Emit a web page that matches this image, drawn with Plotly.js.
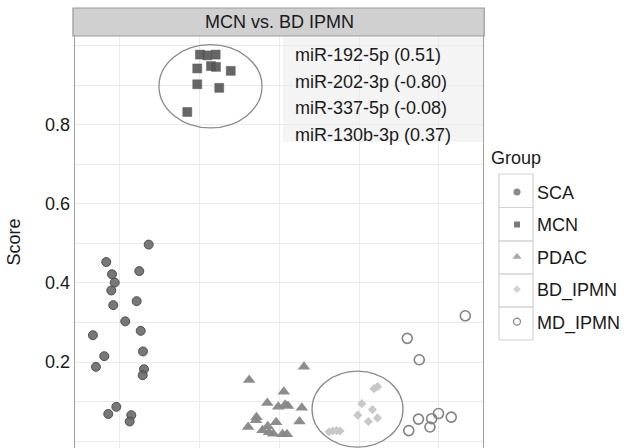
<!DOCTYPE html>
<html>
<head>
<meta charset="utf-8">
<script src="https://cdn.plot.ly/plotly-3.0.1.min.js"></script>
<style>html,body{margin:0;padding:0;background:#fff;}#chart{width:634px;height:448px;}</style>
</head>
<body>
<div id="chart"></div>
<script>
// ---- data (x = jittered group position, y = score) ----
const groups = ["SCA", "MCN", "PDAC", "BD_IPMN", "MD_IPMN"];

const scaX = [1.36, 0.828, 1.242, 0.900, 0.934, 0.891, 1.209, 0.916, 1.066, 0.661, 1.260, 0.803, 1.288, 0.699, 1.301, 1.285, 0.954, 0.853, 1.142, 1.122];
const scaY = [0.497, 0.453, 0.430, 0.422, 0.401, 0.381, 0.354, 0.344, 0.303, 0.268, 0.279, 0.215, 0.227, 0.188, 0.182, 0.167, 0.087, 0.069, 0.066, 0.050];

const mcnX = [2.003, 2.095, 2.200, 2.141, 2.204, 1.969, 2.389, 1.969, 2.245, 1.844];
const mcnY = [0.977, 0.975, 0.977, 0.948, 0.946, 0.942, 0.936, 0.902, 0.893, 0.832];

const pdacX = [3.307, 2.620, 3.054, 2.847, 2.984, 3.071, 3.107, 3.280, 2.712, 2.705, 2.958, 3.251, 2.607, 2.787, 2.853, 2.922, 3.038, 3.094, 2.868];
const pdacY = [0.188, 0.155, 0.125, 0.097, 0.087, 0.092, 0.089, 0.085, 0.061, 0.053, 0.048, 0.050, 0.036, 0.028, 0.038, 0.019, 0.018, 0.018, 0.023];

const bdX = [4.185, 4.231, 4.032, 4.166, 3.982, 4.229, 4.114, 3.622, 3.668, 3.716, 3.759];
const bdY = [0.133, 0.138, 0.095, 0.080, 0.066, 0.059, 0.050, 0.024, 0.026, 0.027, 0.026];

const mdX = [5.330, 4.602, 4.753, 4.994, 4.908, 4.743, 5.154, 4.887, 4.621];
const mdY = [0.317, 0.260, 0.206, 0.070, 0.057, 0.056, 0.061, 0.036, 0.027];

// ellipses around the compared groups (data units)
const ellipseMCN = {x0: 1.489, x1: 2.781, y0: 0.792, y1: 1.002};
const ellipseBD = {x0: 3.408, x1: 4.549, y0: -0.015, y1: 0.177};

const panelTitle = "MCN vs. BD IPMN";
const legendTitle = "Group";
const mirLabels = ["miR-192-5p (0.51)", "miR-202-3p (-0.80)", "miR-337-5p (-0.08)", "miR-130b-3p (0.37)"];
const yGridVals = [0, 0.1, 0.2, 0.3, 0.4, 0.5, 0.6, 0.7, 0.8, 0.9, 1.0];
const yTickText = ["", "", "0.2", "", "0.4", "", "0.6", "", "0.8", "", ""];

// ---- styling ----
const FONT = "Liberation Sans, Arial, sans-serif";
const FS = 18;

const styles = [
  {symbol: "circle", size: 9, color: "rgba(105,105,105,0.9)", line: {color: "rgba(70,70,70,0.9)", width: 1}},
  {symbol: "square", size: 9, color: "rgba(85,85,85,0.9)", line: {color: "rgba(85,85,85,0.9)", width: 0.5}},
  {symbol: "triangle-up", size: 11, color: "rgba(135,135,135,0.95)", line: {width: 0}},
  {symbol: "diamond", size: 7, color: "rgba(200,200,200,1)", line: {width: 0}},
  {symbol: "circle-open", size: 10, color: "rgba(130,130,130,1)", line: {color: "rgba(130,130,130,1)", width: 1.6}}
];
const legendStyles = [
  {symbol: "circle", size: 7, color: "#8a8a8a", line: {width: 0}},
  {symbol: "square", size: 6, color: "#7a7a7a", line: {width: 0}},
  {symbol: "triangle-up", size: 8, color: "#a8a8a8", line: {width: 0}},
  {symbol: "diamond", size: 6, color: "#d2d2d2", line: {width: 0}},
  {symbol: "circle-open", size: 7, color: "#8a8a8a", line: {color: "#8a8a8a", width: 1.3}}
];
const xs = [scaX, mcnX, pdacX, bdX, mdX];
const ys = [scaY, mcnY, pdacY, bdY, mdY];

const data = [];
groups.forEach((g, i) => data.push({type: "scatter", mode: "markers", name: g, x: xs[i], y: ys[i],
  marker: styles[i], showlegend: false, hoverinfo: "skip"}));
// legend-only entries (small key symbols, like the reference legend)
groups.forEach((g, i) => data.push({type: "scatter", mode: "markers", name: g, x: [null], y: [null],
  marker: legendStyles[i], legendgroup: g, showlegend: true, hoverinfo: "skip"}));

// layout geometry: plot area 75..483 x, 36..448 y
const shapes = [
  {type: "rect", xref: "paper", yref: "paper", x0: -0.005, x1: 1.003, y0: 1.0, y1: 1.068,
   fillcolor: "#d0d0d0", line: {color: "#9a9a9a", width: 1.2}, layer: "above"},
  {type: "rect", xref: "paper", yref: "paper", x0: 0.51, x1: 1.0, y0: 0.7427, y1: 0.997,
   fillcolor: "rgba(240,240,240,0.7)", line: {width: 0}, layer: "between"},
  {type: "circle", xref: "x", yref: "y", x0: ellipseMCN.x0, x1: ellipseMCN.x1, y0: ellipseMCN.y0, y1: ellipseMCN.y1,
   line: {color: "#8a8a8a", width: 1.3}, fillcolor: "rgba(0,0,0,0)", layer: "above"},
  {type: "circle", xref: "x", yref: "y", x0: ellipseBD.x0, x1: ellipseBD.x1, y0: ellipseBD.y0, y1: ellipseBD.y1,
   line: {color: "#8a8a8a", width: 1.3}, fillcolor: "rgba(0,0,0,0)", layer: "above"}
];
const keyEdges = [174, 207.5, 241, 274, 307, 340];
for (let i = 0; i < 5; i++) {
  shapes.push({type: "rect", xref: "paper", yref: "paper",
    x0: (499 - 75) / 408, x1: (533 - 75) / 408,
    y0: (448 - keyEdges[i + 1]) / 412, y1: (448 - keyEdges[i]) / 412,
    fillcolor: "rgba(0,0,0,0)", line: {color: "#d2d2d2", width: 1.2}, layer: "below"});
}

const labelY = [55, 81.7, 108.3, 135];
const annotations = [
  {text: panelTitle, xref: "paper", yref: "paper", x: 0.5, y: (448 - 22) / 412, showarrow: false,
   font: {family: FONT, size: FS, color: "#1a1a1a"}, xanchor: "center", yanchor: "middle"},
  {text: legendTitle, xref: "paper", yref: "paper", x: (489 - 75) / 408, y: (448 - 158) / 412, showarrow: false,
   font: {family: FONT, size: FS, color: "#1a1a1a"}, xanchor: "left", yanchor: "middle"}
];
mirLabels.forEach((t, i) => annotations.push({
  text: t, xref: "paper", yref: "paper", x: (293 - 75) / 408, y: (448 - labelY[i]) / 412,
  showarrow: false, xanchor: "left", yanchor: "middle",
  font: {family: FONT, size: FS, color: "#1a1a1a"}
}));

const layout = {
  width: 634, height: 448,
  margin: {l: 75, r: 151, t: 36, b: 0, pad: 0},
  paper_bgcolor: "#ffffff", plot_bgcolor: "#ffffff",
  font: {family: FONT, size: FS, color: "#1a1a1a"},
  showlegend: true,
  legend: {
    x: 1.0343, y: 0.6655, xanchor: "left", yanchor: "top",
    font: {family: FONT, size: FS, color: "#1a1a1a"},
    tracegroupgap: 6, itemsizing: "trace", bgcolor: "rgba(0,0,0,0)"
  },
  xaxis: {
    range: [0.436, 5.552], showticklabels: false, ticks: "", tick0: 1, dtick: 1,
    showgrid: true, gridcolor: "#ebebeb", gridwidth: 1, zeroline: false,
    showline: true, linecolor: "#a8a8a8", linewidth: 1.2, mirror: true
  },
  yaxis: {
    range: [-0.017, 1.024], tickmode: "array", tickvals: yGridVals, ticktext: yTickText,
    ticks: "", showgrid: true, gridcolor: "#ebebeb", gridwidth: 1, zeroline: false,
    showline: true, linecolor: "#a0a0a0", linewidth: 1.4, mirror: true,
    tickfont: {family: FONT, size: FS, color: "#1a1a1a"},
    title: {text: "Score", font: {family: FONT, size: FS, color: "#1a1a1a"}, standoff: 19}
  },
  shapes: shapes,
  annotations: annotations
};

Plotly.newPlot("chart", data, layout, {staticPlot: true, displayModeBar: false});
</script>
</body>
</html>
